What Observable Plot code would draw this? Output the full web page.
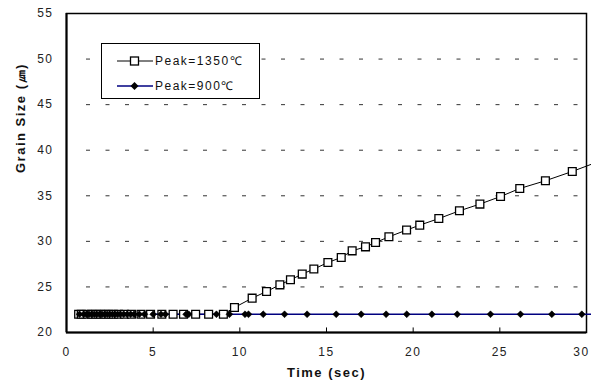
<!DOCTYPE html>
<html>
<head>
<meta charset="utf-8">
<script src="https://cdn.jsdelivr.net/npm/d3@7"></script>
<script src="https://cdn.jsdelivr.net/npm/@observablehq/plot@0.6"></script>
<style>
  html, body { margin: 0; padding: 0; background: #fff; overflow: hidden; }
  #wrap { position: relative; width: 591px; height: 388px; overflow: hidden; font-family: Arial, "Liberation Sans", sans-serif; }
  #legend { position: absolute; left: 101px; top: 43px; width: 157px; height: 54px; border: 1px solid #000; background: #fff; }
  .entry { position: absolute; left: 15px; display: flex; align-items: center; font-size: 12px; letter-spacing: 1.5px; color: #111; }
  .entry svg { display: block; margin-right: 1px; }
</style>
</head>
<body>
<div id="wrap"></div>
<script>
// Peak = 1350 ℃ series (time in sec, grain size in µm)
const t1350 = [0.7, 0.85, 1.2, 1.45, 1.7, 1.95, 2.2, 2.45, 2.7, 3.0, 3.35, 3.75, 4.3, 4.85, 5.5, 6.15, 6.75, 7.45, 8.2, 9.05,
  9.69, 10.71, 11.54, 12.31, 12.92, 13.6, 14.27, 15.08, 15.85, 16.48, 17.25, 17.83, 18.6, 19.62, 20.38, 21.48, 22.67,
  23.85, 25.04, 26.15, 27.63, 29.18, 30.7];
const g1350 = [22, 22, 22, 22, 22, 22, 22, 22, 22, 22, 22, 22, 22, 22, 22, 22, 22, 22, 22, 22,
  22.74, 23.77, 24.5, 25.23, 25.78, 26.41, 26.96, 27.68, 28.23, 28.96, 29.4, 29.87, 30.5, 31.24, 31.78, 32.5, 33.35,
  34.09, 34.92, 35.8, 36.65, 37.67, 38.76];
// Peak = 900 ℃ series
const t900 = [0.75, 1.0, 1.15, 1.3, 1.45, 1.6, 1.75, 1.9, 2.05, 2.2, 2.35, 2.5, 2.65, 2.8, 2.95, 3.1, 3.3, 3.5, 3.7, 3.9,
  4.2, 4.5, 5.0, 5.45, 5.7, 6.9, 7.05, 8.65, 9.4, 10.3, 10.5, 11.35, 12.58, 13.88, 15.56, 17.0, 18.44, 19.63, 21.08,
  22.54, 24.46, 26.19, 28.0, 29.73, 31.4];
const g900 = [22, 22, 22, 22, 22, 22, 22, 22, 22, 22, 22, 22, 22, 22, 22, 22, 22, 22, 22, 22,
  22, 22, 22, 22, 22, 22, 22, 22, 22, 22, 22, 22, 22, 22, 22, 22, 22, 22, 22,
  22, 22, 22, 22, 22, 22];

const xTicks = [0, 5, 10, 15, 20, 25, 30];
const yTicks = [20, 25, 30, 35, 40, 45, 50, 55];
const gridValues = [25, 30, 35, 40, 45, 50];
const xTitle = "Time (sec)";
const yTitle = "Grain Size (㎛)";
const seriesNames = ["Peak=1350℃", "Peak=900℃"];

const d1350 = t1350.map((t, i) => ({t, g: g1350[i]}));
const d900 = t900.map((t, i) => ({t, g: g900[i]}));

const chart = Plot.plot({
  width: 591,
  height: 388,
  marginLeft: 66,
  marginRight: 5,
  marginTop: 13,
  marginBottom: 56,
  style: {fontFamily: "Arial, 'Liberation Sans', sans-serif", fontSize: "12px", background: "#fff", overflow: "hidden", letterSpacing: "1.5px"},
  x: {domain: [0, 30]},
  y: {domain: [20, 55]},
  marks: [
    Plot.ruleY(gridValues, {x1: 20 / 17.333, x2: 30, stroke: "#333", strokeWidth: 1, strokeDasharray: "4,15.5"}),
    Plot.axisX(xTicks.slice(0, -1), {tickSize: 0, tickPadding: 15, label: null, fill: "#222"}),
    Plot.axisX(xTicks.slice(-1), {tickSize: 0, tickPadding: 15, label: null, fill: "#222", dx: -5}),
    Plot.axisY(yTicks, {tickSize: 0, tickPadding: 13, label: null, fill: "#222"}),
    Plot.ruleX(xTicks.slice(1, -1), {y1: 20, y2: 20.5, stroke: "#000", strokeWidth: 1}),
    Plot.frame({stroke: "#000", strokeWidth: 1.5}),
    Plot.ruleY([20], {stroke: "#000", strokeWidth: 2}),
    Plot.ruleX([0], {stroke: "#000", strokeWidth: 2}),
    Plot.line(d1350, {x: "t", y: "g", stroke: "#000", strokeWidth: 1}),
    Plot.line(d900, {x: "t", y: "g", stroke: "#000080", strokeWidth: 1.3}),
    Plot.dot(d1350, {x: "t", y: "g", symbol: "square", r: 4.4, fill: "#fff", stroke: "#000", strokeWidth: 1.3}),
    Plot.dot(d900, {x: "t", y: "g", symbol: "diamond2", r: 3.1, fill: "#000", stroke: "#000", strokeWidth: 0.5}),
    Plot.text([xTitle], {frameAnchor: "bottom", dy: 44, fontWeight: "bold", fontSize: 13, fill: "#111", style: "letter-spacing:2.4px"}),
    Plot.text([yTitle], {frameAnchor: "left", dx: -46, rotate: -90, fontWeight: "bold", fontSize: 13, fill: "#111"})
  ]
});

const wrap = document.getElementById("wrap");
wrap.appendChild(chart);

// Legend inside the plot area
const legend = document.createElement("div");
legend.id = "legend";
legend.innerHTML = `
  <div class="entry" style="top:8px">
    <svg width="37" height="12"><line x1="0" y1="6" x2="36" y2="6" stroke="#000" stroke-width="1"/>
      <rect x="13.5" y="2" width="8" height="8" fill="#fff" stroke="#000" stroke-width="1.3"/></svg>
    <span>${seriesNames[0]}</span>
  </div>
  <div class="entry" style="top:33px">
    <svg width="37" height="12"><line x1="0" y1="6" x2="36" y2="6" stroke="#000080" stroke-width="1.3"/>
      <path d="M17.5,2 L21.5,6 L17.5,10 L13.5,6 Z" fill="#000"/></svg>
    <span>${seriesNames[1]}</span>
  </div>`;
wrap.appendChild(legend);
</script>
</body>
</html>
